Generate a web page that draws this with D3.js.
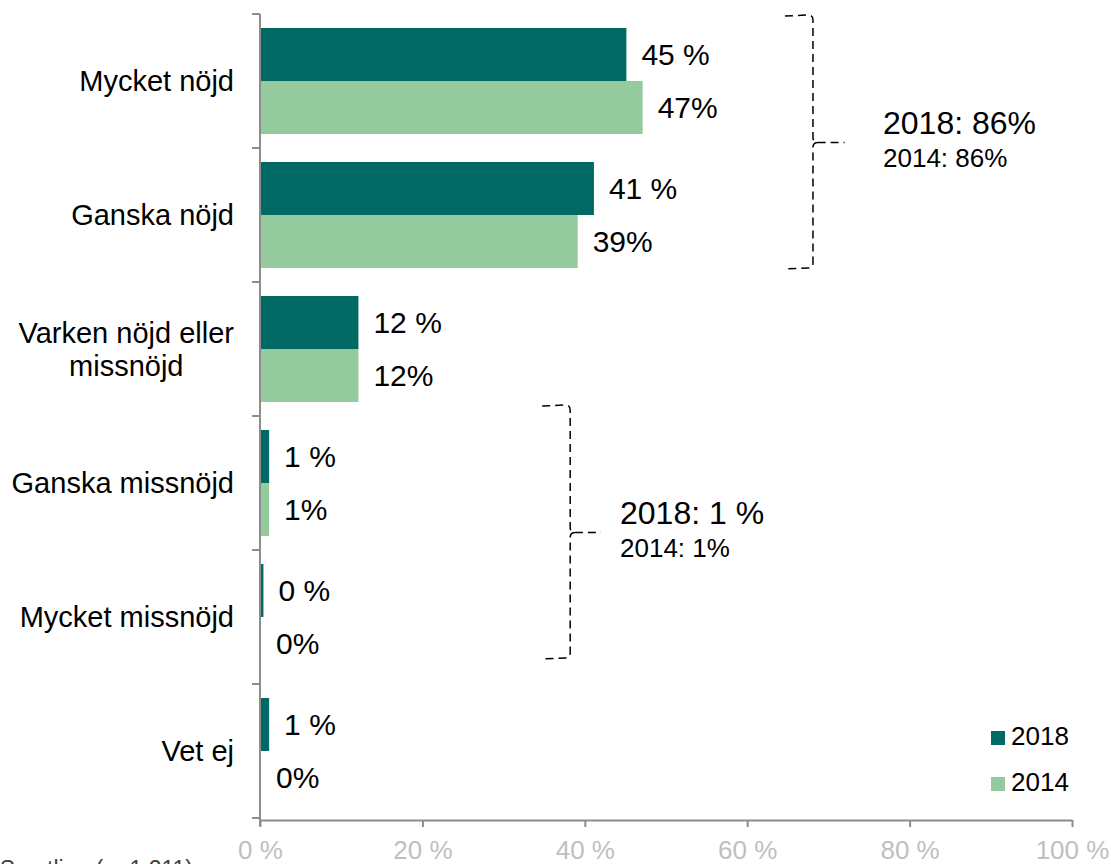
<!DOCTYPE html>
<html>
<head>
<meta charset="utf-8">
<script src="https://cdn.jsdelivr.net/npm/d3@7"></script>
<style>
  body { margin: 0; background: #fff; }
  svg { display: block; font-family: "Liberation Sans", Arial, sans-serif; }
</style>
</head>
<body>
<div id="chart"></div>
<script>
// data
const categories = ["Mycket nöjd", "Ganska nöjd", "Varken nöjd eller\nmissnöjd", "Ganska missnöjd", "Mycket missnöjd", "Vet ej"];
const values2018 = [45, 41, 12, 1, 0.3, 1];
const labels2018 = ["45 %", "41 %", "12 %", "1 %", "0 %", "1 %"];
const values2014 = [47, 39, 12, 1, 0, 0];
const labels2014 = ["47%", "39%", "12%", "1%", "0%", "0%"];
const seriesNames = ["2018", "2014"];
const xTicks = [0, 20, 40, 60, 80, 100];
const bracketTexts = [["2018: 86%", "2014: 86%"], ["2018: 1 %", "2014: 1%"]];

const colors = {"2018": "#006963", "2014": "#95ca9e"};

const W = 1111, H = 864;
const margin = {top: 14, right: 39, bottom: 44, left: 260};

const svg = d3.select("#chart").append("svg")
    .attr("width", W)
    .attr("height", H);

const g = svg.append("g")
    .attr("transform", "translate(" + margin.left + "," + margin.top + ")");

const x = d3.scaleLinear().domain([0, 100]).range([0, 812]);
const y = d3.scaleBand().domain(categories).range([0, 804]).paddingInner(0).paddingOuter(0);
const inner = d3.scaleBand().domain(seriesNames).range([14, y.bandwidth() - 14]);

// x axis
const xAxis = g.append("g")
    .attr("transform", "translate(0," + 806 + ")")
    .call(d3.axisBottom(x).tickValues(xTicks).tickSize(7).tickSizeOuter(0).tickFormat(d => d + " %"));
xAxis.select(".domain").attr("stroke", "#8c8c8c").attr("stroke-width", 2);
xAxis.selectAll(".tick line").attr("stroke", "#8c8c8c").attr("stroke-width", 2);
xAxis.selectAll(".tick text")
    .attr("fill", "#bfbfbf")
    .attr("font-size", 26)
    .attr("dy", 0)
    .attr("y", 39);

// y axis line + ticks at band borders
g.append("line")
    .attr("x1", 0).attr("x2", 0)
    .attr("y1", 0).attr("y2", 812)
    .attr("stroke", "#8c8c8c").attr("stroke-width", 2);
const borders = categories.map(c => y(c)).concat([y.range()[1]]);
g.selectAll(".ytick").data(borders).enter().append("line")
    .attr("x1", -8).attr("x2", 0)
    .attr("y1", d => d).attr("y2", d => d)
    .attr("stroke", "#8c8c8c").attr("stroke-width", 2);

// category labels
const catLabels = g.selectAll(".cat").data(categories).enter().append("text")
    .attr("font-size", 29)
    .attr("fill", "#000");
catLabels.each(function(d) {
  const lines = d.split("\n");
  const t = d3.select(this);
  const yc = y(d) + y.bandwidth() / 2;
  lines.forEach((ln, i) => {
    t.append("tspan")
      .attr("y", yc + (i - (lines.length - 1) / 2) * 33)
      .attr("dy", "0.35em")
      .text(ln);
  });
  if (lines.length > 1) {
    let maxW = 0;
    t.selectAll("tspan").each(function() { maxW = Math.max(maxW, this.getComputedTextLength()); });
    t.attr("text-anchor", "middle");
    t.selectAll("tspan").attr("x", -26 - maxW / 2);
  } else {
    t.attr("text-anchor", "end");
    t.selectAll("tspan").attr("x", -26);
  }
});

// bars
const series = [
  {name: "2018", values: values2018, labels: labels2018},
  {name: "2014", values: values2014, labels: labels2014}
];
series.forEach(s => {
  g.selectAll(".bar" + s.name).data(categories).enter().append("rect")
      .attr("x", 1)
      .attr("y", d => y(d) + inner(s.name))
      .attr("width", (d, i) => x(s.values[i]))
      .attr("height", inner.bandwidth())
      .attr("fill", colors[s.name]);
  g.selectAll(".lab" + s.name).data(categories).enter().append("text")
      .attr("x", (d, i) => x(s.values[i]) + 16)
      .attr("y", d => y(d) + inner(s.name) + inner.bandwidth() / 2)
      .attr("dy", "0.36em")
      .attr("font-size", 30)
      .attr("fill", "#000")
      .text((d, i) => s.labels[i]);
});

// brackets
const brackets = [
  {xPct: 68.1, tipPct: 72, y0: y(categories[0]) + 1, y1: y(categories[1]) + y.bandwidth() - 14, texts: bracketTexts[0], tx: 623},
  {xPct: 38.2, tipPct: 42, y0: y(categories[3]) - 11, y1: y(categories[4]) + y.bandwidth() - 26, texts: bracketTexts[1], tx: 360}
];
brackets.forEach(b => {
  const bx = x(b.xPct), tip = x(b.tipPct), ym = (b.y0 + b.y1) / 2 + 1;
  const arm = 28, r = 5;
  const p = d3.path();
  p.moveTo(bx - arm, b.y0 + 1);
  p.lineTo(bx - r, b.y0);
  p.quadraticCurveTo(bx, b.y0, bx, b.y0 + r);
  p.lineTo(bx, ym - r);
  p.quadraticCurveTo(bx, ym, bx + 5, ym);
  p.lineTo(tip, ym);
  p.moveTo(bx + 5, ym);
  p.quadraticCurveTo(bx, ym, bx, ym + r);
  p.lineTo(bx, b.y1 - r);
  p.quadraticCurveTo(bx, b.y1, bx - r, b.y1);
  p.lineTo(bx - arm, b.y1 + 1);
  g.append("path")
      .attr("d", p.toString())
      .attr("fill", "none")
      .attr("stroke", "#000")
      .attr("stroke-width", 1.5)
      .attr("stroke-dasharray", "8,5");
  g.append("text")
      .attr("x", b.tx).attr("y", ym - 9)
      .attr("font-size", 32).attr("fill", "#000")
      .text(b.texts[0]);
  g.append("text")
      .attr("x", b.tx).attr("y", ym + 24)
      .attr("font-size", 26).attr("fill", "#000")
      .text(b.texts[1]);
});

// legend
const legend = svg.append("g").attr("transform", "translate(991,731)");
seriesNames.forEach((n, i) => {
  legend.append("rect")
      .attr("x", 0).attr("y", i * 46)
      .attr("width", 14).attr("height", 14)
      .attr("fill", colors[n]);
  legend.append("text")
      .attr("x", 20).attr("y", i * 46 + 14)
      .attr("font-size", 26).attr("fill", "#000")
      .text(n);
});

// footnote (partly outside the picture, as in the original)
svg.append("text")
    .attr("x", 193).attr("y", 877)
    .attr("text-anchor", "end")
    .attr("font-size", 23)
    .attr("fill", "#404040")
    .text("Samtliga (n=1 211)");
</script>
</body>
</html>
